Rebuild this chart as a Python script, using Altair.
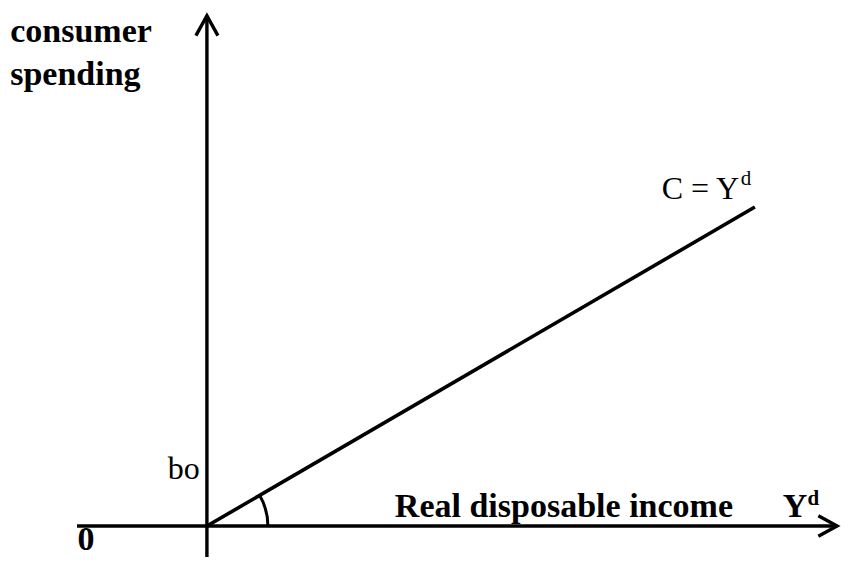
import math
import altair as alt
import pandas as pd

# ---- plot geometry (data units) ----
W, H = 834, 549
X_DOMAIN = [-36.3, 115.9]
Y_DOMAIN = [-9.7, 162.4]

# consumption function C = Y^d
yd_values = [0, 100]
c_values = [0, 100]

# axis extents
x_axis_extent = [-23.7, 115.0]
y_axis_extent = [-12.0, 160.0]

FONT = "Liberation Serif"

xs = alt.Scale(domain=X_DOMAIN)
ys = alt.Scale(domain=Y_DOMAIN)


def X(field="x"):
    return alt.X(f"{field}:Q", scale=xs, axis=None)


def Y(field="y"):
    return alt.Y(f"{field}:Q", scale=ys, axis=None)


SW = 3.4

# axes lines
haxis = alt.Chart(pd.DataFrame({"x": [x_axis_extent[0]], "x2": [x_axis_extent[1]], "y": [0]})).mark_rule(
    color="black", strokeWidth=SW
).encode(x=X(), x2="x2:Q", y=Y())

vaxis = alt.Chart(pd.DataFrame({"x": [0], "y": [y_axis_extent[0]], "y2": [y_axis_extent[1]]})).mark_rule(
    color="black", strokeWidth=SW
).encode(x=X(), y=Y(), y2="y2:Q")

chevron = "M-0.55,1L0,0L0.55,1"
up_arrow = alt.Chart(pd.DataFrame({"x": [0], "y": [y_axis_extent[1]]})).mark_point(
    shape=chevron, filled=False, size=1600, strokeWidth=SW, color="black", opacity=1
).encode(x=X(), y=Y())

right_arrow = alt.Chart(pd.DataFrame({"x": [x_axis_extent[1]], "y": [0]})).mark_point(
    shape=chevron, filled=False, size=1400, strokeWidth=SW, color="black", opacity=1, angle=90
).encode(x=X(), y=Y())

# consumption line
cline = alt.Chart(pd.DataFrame({"x": yd_values, "y": c_values})).mark_line(
    color="black", strokeWidth=3.6
).encode(x=X(), y=Y())

# angle arc at origin
px_x = W / (X_DOMAIN[1] - X_DOMAIN[0])
px_y = H / (Y_DOMAIN[1] - Y_DOMAIN[0])
ang = math.atan2((c_values[1] - c_values[0]) * px_y, (yd_values[1] - yd_values[0]) * px_x)
arc = alt.Chart(pd.DataFrame({"x": [0], "y": [0]})).mark_arc(
    radius=61, radius2=61, theta=math.pi / 2 - ang, theta2=math.pi / 2,
    fillOpacity=0, stroke="black", strokeWidth=3
).encode(x=X(), y=Y())

# annotations
annotations = [
    # text, x, y, size, weight, align
    ("consumer", -35.9, 151.7, 34, "bold", "left"),
    ("spending", -35.9, 138.2, 34, "bold", "left"),
    ("bo", -1.3, 14.7, 32, "normal", "right"),
    ("Real disposable income", 34.3, 2.8, 34, "bold", "left"),
    ("Y", 105.1, 2.8, 34, "bold", "left"),
    ("d", 109.6, 6.6, 21, "bold", "left"),
    ("C = Y", 83.0, 102.5, 32, "normal", "left"),
    ("d", 97.4, 106.9, 21, "normal", "left"),
    ("0", -23.6, -7.6, 34, "bold", "left"),
]

texts = []
for t, x, y, s, w, a in annotations:
    texts.append(
        alt.Chart(pd.DataFrame({"x": [x], "y": [y], "t": [t]})).mark_text(
            font=FONT, fontSize=s, fontWeight=w, align=a, baseline="alphabetic", color="black"
        ).encode(x=X(), y=Y(), text="t:N")
    )

chart = alt.layer(haxis, vaxis, cline, arc, up_arrow, right_arrow, *texts).properties(
    width=W, height=H, autosize=alt.AutoSizeParams(type="none"), padding=0, background="white"
).configure_view(stroke=None)

chart.save("out.html", embed_options={"renderer": "svg", "actions": False})
